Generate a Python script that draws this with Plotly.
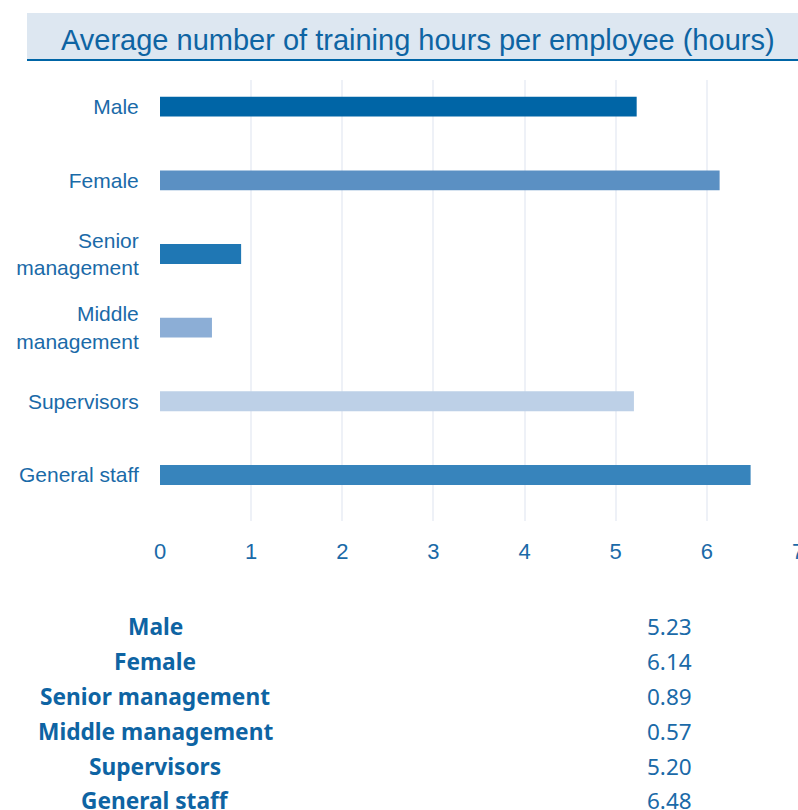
import plotly.graph_objects as go

# ---- data ----
categories = ["Male", "Female", "Senior management", "Middle management", "Supervisors", "General staff"]
axis_labels = ["Male", "Female", "Senior<br>management", "Middle<br>management", "Supervisors", "General staff"]
hours = [5.23, 6.14, 0.89, 0.57, 5.20, 6.48]
value_labels = ["5.23", "6.14", "0.89", "0.57", "5.20", "6.48"]
bar_colors = ["#0065a6", "#5b90c3", "#1f77b4", "#8caed6", "#bdd0e7", "#3784bc"]
x_ticks = [0, 1, 2, 3, 4, 5, 6, 7]
title_text = "Average number of training hours per employee (hours)"

# ---- layout constants (page pixels; body margin removed by post_script) ----
W, H = 798, 810
L, R, T, B = 160, 0, 80, 521  # plot area edges in pixels
pw, ph = W - L - R, B - T

def px_x(p):
    return (p - L) / pw

def px_y(p):
    return (B - p) / ph

text_col = "#1a6aa8"

fig = go.Figure()
fig.add_trace(go.Bar(
    y=axis_labels, x=hours, orientation="h",
    marker=dict(color=bar_colors, line=dict(width=0)),
    width=0.27, hoverinfo="x+y", showlegend=False,
))

fig.update_layout(
    width=W, height=H, autosize=False,
    margin=dict(l=L, r=R, t=T, b=H - B, pad=0, autoexpand=False),
    paper_bgcolor="white", plot_bgcolor="white",
    font=dict(family="Liberation Sans, Arial, sans-serif", color=text_col),
    xaxis=dict(
        range=[0, 7], tickvals=x_ticks, ticktext=[str(v) for v in x_ticks],
        showgrid=True, gridcolor="#eef1f7", gridwidth=2, zeroline=False,
        showline=False, ticks="outside", ticklen=11, tickcolor="rgba(0,0,0,0)",
        ticklabeloverflow="allow", automargin=False,
        tickfont=dict(size=22, color=text_col, family="Liberation Sans, Arial, sans-serif"),
        fixedrange=True,
    ),
    yaxis=dict(
        type="category", categoryorder="array", categoryarray=axis_labels,
        range=[5.625, -0.362], showgrid=False, zeroline=False, showline=False,
        ticks="outside", ticklen=16, tickcolor="rgba(0,0,0,0)", automargin=False,
        tickfont=dict(size=21, color=text_col, family="Liberation Sans, Arial, sans-serif"),
        fixedrange=True,
    ),
)

# title box
fig.add_shape(type="rect", xref="paper", yref="paper",
              x0=px_x(27), x1=px_x(800), y0=px_y(60), y1=px_y(13),
              fillcolor="#dde7f1", line=dict(width=0), layer="below")
fig.add_shape(type="line", xref="paper", yref="paper",
              x0=px_x(27), x1=px_x(800), y0=px_y(60), y1=px_y(60),
              line=dict(color="#0065a6", width=2))
fig.add_annotation(xref="paper", yref="paper", x=px_x(418), y=px_y(40),
                   text=title_text, showarrow=False, xanchor="center", yanchor="middle",
                   font=dict(size=29, color="#0e64a3", family="Liberation Sans, Arial, sans-serif"))

# table below
row_y = [626, 661, 696, 731, 766, 800]
for i, (cat, val) in enumerate(zip(categories, value_labels)):
    fig.add_annotation(xref="paper", yref="paper", x=px_x(155), y=px_y(row_y[i]),
                       text="<b>" + cat + "</b>", showarrow=False, xanchor="center", yanchor="middle",
                       font=dict(size=22.7, color="#0e64a3", family="Noto Sans, Open Sans, sans-serif"))
    fig.add_annotation(xref="paper", yref="paper", x=px_x(669), y=px_y(row_y[i]),
                       text=val, showarrow=False, xanchor="center", yanchor="middle",
                       font=dict(size=22.5, color=text_col, family="Noto Sans, Open Sans, sans-serif"))

post = (
    "document.documentElement.style.margin='0';"
    "document.documentElement.style.overflow='hidden';"
    "document.body.style.margin='0';document.body.style.padding='0';"
    "document.body.style.overflow='hidden';"
    "var gd=document.getElementById('{plot_id}');"
    "Plotly.relayout(gd,{width:%d,height:%d});" % (W, H)
)

fig.write_html("out.html", config={"displayModeBar": False, "responsive": False},
               post_script=post)
